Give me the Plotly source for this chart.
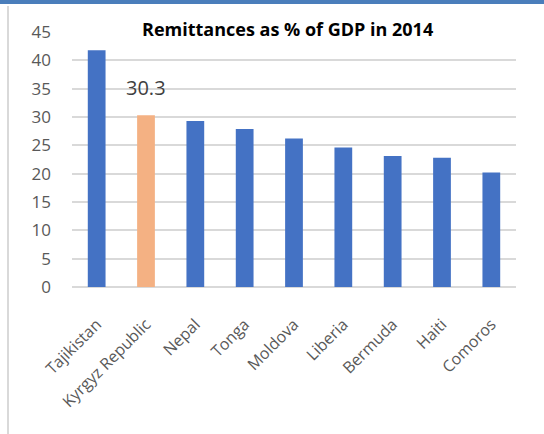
import plotly.graph_objects as go

# Remittances as a share of GDP, 2014
countries = ["Tajikistan", "Kyrgyz Republic", "Nepal", "Tonga", "Moldova",
             "Liberia", "Bermuda", "Haiti", "Comoros"]
remit_pct = [41.8, 30.3, 29.3, 27.9, 26.2, 24.6, 23.1, 22.8, 20.2]
highlight = "Kyrgyz Republic"
y_ticks = [0, 5, 10, 15, 20, 25, 30, 35, 40, 45]

BLUE = "#4472C4"
ORANGE = "#F4B183"
GRID = "#d9d9d9"
TEXT = "#595959"
FONT = "Open Sans"

W, H = 544, 434
L, R, T, B = 72, 28, 32, 147
pw, ph = W - L - R, H - T - B


def px_x(px):
    return (px - L) / pw


def px_y(py):
    return (H - B - py) / ph


colors = [ORANGE if c == highlight else BLUE for c in countries]

fig = go.Figure(go.Bar(
    x=countries, y=remit_pct,
    marker=dict(color=colors, line=dict(width=0)),
    width=0.36,
    hoverinfo="x+y",
))

hi = countries.index(highlight)
fig.add_annotation(
    x=countries[hi], y=remit_pct[hi], text=f"{remit_pct[hi]:.1f}",
    showarrow=False, yanchor="bottom", yshift=12,
    font=dict(family=FONT, size=20, color="#404040"),
)

fig.add_annotation(
    x=px_x(287), y=px_y(28.5), xref="paper", yref="paper",
    text="<b>Remittances as % of GDP in 2014</b>", showarrow=False,
    xanchor="center", yanchor="middle",
    font=dict(family=FONT, size=18, color="#000000"),
)

# frame accents: blue top rule and grey left edge
fig.add_shape(type="rect", xref="paper", yref="paper",
              x0=px_x(0), x1=px_x(W), y0=px_y(4), y1=px_y(0),
              fillcolor="#4a7ebb", line=dict(width=0), layer="above")
fig.add_shape(type="line", xref="paper", yref="paper",
              x0=px_x(8), x1=px_x(8), y0=px_y(6), y1=px_y(H),
              line=dict(color=GRID, width=2))

fig.update_layout(
    width=W, height=H, autosize=False,
    margin=dict(l=L, r=R, t=T, b=B, pad=0),
    paper_bgcolor="white", plot_bgcolor="white",
    showlegend=False,
    font=dict(family=FONT, color=TEXT),
    bargap=0.64,
)
fig.update_xaxes(
    tickangle=-45, tickfont=dict(family=FONT, size=16, color=TEXT),
    showgrid=False, showline=False, ticks="", ticklabelstandoff=24,
)
fig.update_yaxes(
    range=[0, 45], tickvals=y_ticks,
    tickfont=dict(family=FONT, size=17, color=TEXT),
    showgrid=True, gridcolor=GRID, gridwidth=1.5,
    zeroline=True, zerolinecolor=GRID, zerolinewidth=1.5,
    showline=False, ticks="", ticklabelstandoff=20,
)

fig.write_html("out.html")
